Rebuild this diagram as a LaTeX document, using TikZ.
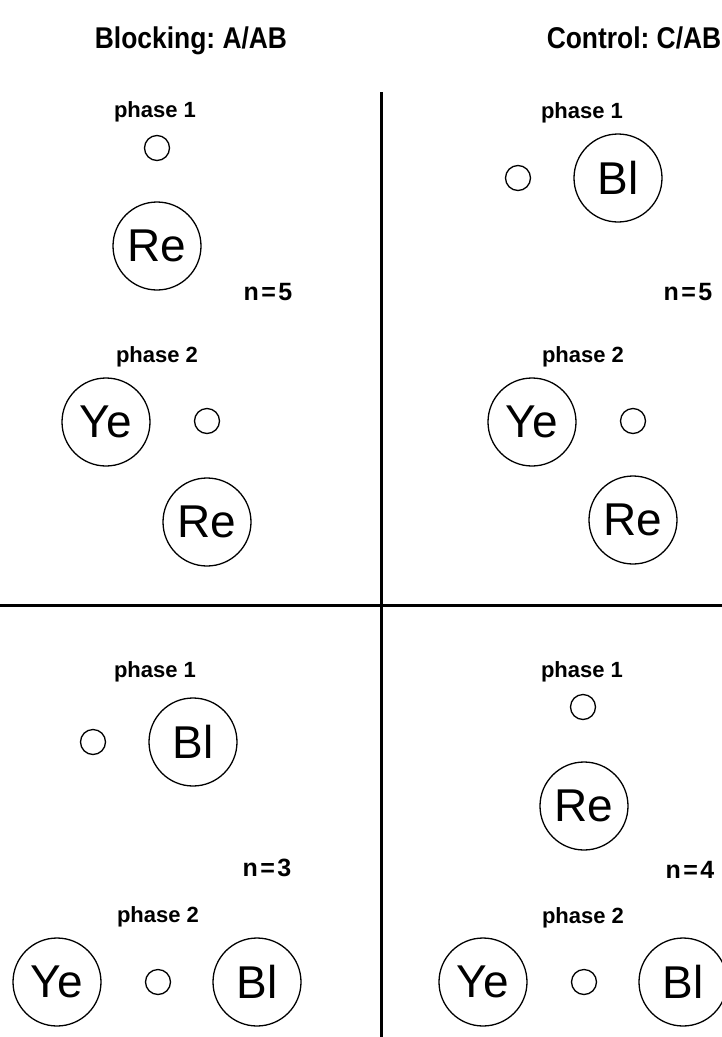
\documentclass[tikz,border=0pt]{standalone}
\usepackage{fontspec}
\setmainfont{Liberation Sans}
\newfontfamily\headfont{Liberation Sans}[FakeStretch=0.88]
\newfontfamily\countfont{Liberation Sans}[LetterSpace=10]
\frenchspacing
\usetikzlibrary{positioning}
\tikzset{
  % Panel heading
  heading/.style={font=\headfont\fontsize{30}{34}\selectfont\bfseries, inner sep=0pt, anchor=base},
  % Phase caption
  phaselbl/.style={font=\fontsize{22}{26}\selectfont\bfseries, inner sep=0pt},
  % Group size
  countlbl/.style={font=\countfont\fontsize{25}{28}\selectfont\bfseries, inner sep=0pt},
  % Stimulus circle
  stim/.style={
    circle, draw, line width=1.3pt,
    minimum size=88pt, inner sep=0pt,
    font=\fontsize{46}{50}\selectfont
  },
  % Context dot
  ctx/.style={circle, draw, line width=1.3pt, minimum size=25pt, inner sep=0pt},
  % Quadrant lines
  divider/.style={line width=3pt},
}
\begin{document}
\begin{tikzpicture}[x=1pt, y=-1pt]
  \useasboundingbox (0,0) rectangle (722,1037);

  %% Headings
  \node[heading] (hblock) at (191,48) {Blocking: A/AB};
  \node[heading] (hctrl) at (634,48) {Control: C/AB};

  %% Blocking, first group
  \node[phaselbl] (bap1) at (155,112) {phase 1};
  \node[ctx] (bactx1) at (157,148) {};
  \node[stim] (bare1) at (157,246) {Re};
  \node[countlbl] (ban) at (268,292) {n=5};
  \node[phaselbl] (bap2) at (157,357) {phase 2};
  \node[stim] (baye2) at (106,422) {Ye};
  \node[ctx] (bactx2) at (207,421) {};
  \node[stim] (bare2) at (207,522) {Re};

  %% Control, first group
  \node[phaselbl] (cap1) at (582,113) {phase 1};
  \node[ctx] (cactx1) at (518,178) {};
  \node[stim] (cabl1) at (618,178) {Bl};
  \node[countlbl] (can) at (688,292) {n=5};
  \node[phaselbl] (cap2) at (583,357) {phase 2};
  \node[stim] (caye2) at (532,422) {Ye};
  \node[ctx] (cactx2) at (633,421) {};
  \node[stim] (care2) at (633,520) {Re};

  %% Blocking, second group
  \node[phaselbl] (bbp1) at (155,672) {phase 1};
  \node[ctx] (bbctx1) at (93,742) {};
  \node[stim] (bbbl1) at (193,742) {Bl};
  \node[countlbl] (bbn) at (267,868) {n=3};
  \node[phaselbl] (bbp2) at (158,917) {phase 2};
  \node[stim] (bbye2) at (57,982) {Ye};
  \node[ctx] (bbctx2) at (158,982) {};
  \node[stim] (bbbl2) at (257,982) {Bl};

  %% Control, second group
  \node[phaselbl] (cbp1) at (582,672) {phase 1};
  \node[ctx] (cbctx1) at (583,707) {};
  \node[stim] (cbre1) at (584,806) {Re};
  \node[countlbl] (cbn) at (690,870) {n=4};
  \node[phaselbl] (cbp2) at (583,918) {phase 2};
  \node[stim] (cbye2) at (483,982) {Ye};
  \node[ctx] (cbctx2) at (584,982) {};
  \node[stim] (cbbl2) at (683,982) {Bl};

  %% Quadrant lines
  \coordinate (vtop) at (381,92);
  \coordinate (vbot) at (381,1037);
  \coordinate (hleft) at (0,605);
  \coordinate (hright) at (722,605);
  \draw[divider] (vtop) -- (vbot);
  \draw[divider] (hleft) -- (hright);

\end{tikzpicture}
\end{document}
